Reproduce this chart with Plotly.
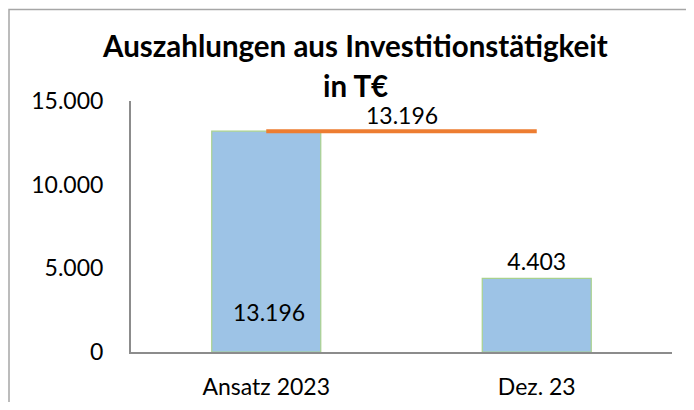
import plotly.graph_objects as go

categories = ["Ansatz 2023", "Dez. 23"]
values = [13196, 4403]
plan_line = [13196, 13196]
y_ticks = [0, 5000, 10000, 15000]

FONT = "Lato"
FS = 23

# figure is drawn inside an 8px page margin
OFF = 8
FIG_W, FIG_H = 694 - 2 * OFF, 410 - 2 * OFF
L, R_EDGE = 131 - OFF, 672 - OFF
TOP, BOT = 100.5 - OFF, 351.7 - OFF
W = R_EDGE - L


def py(p):
    """page pixel y -> paper y"""
    return (BOT - (p - OFF)) / (BOT - TOP)


def px(p):
    return ((p - OFF) - L) / W


def de(v):
    return f"{v:,}".replace(",", ".")


fig = go.Figure()

fig.add_trace(go.Bar(
    x=categories, y=values,
    width=0.403,
    marker=dict(color="#9dc3e6", line=dict(color="#a9d18e", width=1.2)),
    text=["", de(values[1])],
    textposition="outside",
    textfont=dict(family=FONT, size=FS, color="#000000"),
    cliponaxis=False,
    showlegend=False,
))

fig.add_trace(go.Scatter(
    x=categories, y=plan_line,
    mode="lines",
    line=dict(color="#ed7d31", width=4),
    showlegend=False,
))

# line label in the middle, above the orange line
fig.add_annotation(
    x=0.5, y=plan_line[0], xref="x", yref="y",
    text=de(plan_line[0]),
    showarrow=False, yanchor="bottom", yshift=0,
    font=dict(family=FONT, size=FS, color="#000000"),
)
# label inside first bar, near bottom
fig.add_annotation(
    x=0, y=2370, xref="x", yref="y",
    text=de(values[0]),
    showarrow=False, yanchor="middle", xshift=3,
    font=dict(family=FONT, size=FS, color="#000000"),
)

# title lines
fig.add_annotation(
    x=px(354.5), y=py(57), xref="paper", yref="paper",
    text="<b>Auszahlungen aus Investitionstätigkeit</b>",
    showarrow=False, yanchor="bottom", yshift=-7,
    font=dict(family=FONT, size=29.5, color="#000000"),
)
fig.add_annotation(
    x=px(355.5), y=py(97), xref="paper", yref="paper",
    text="<b>in T€</b>",
    showarrow=False, yanchor="bottom", yshift=-7,
    font=dict(family=FONT, size=29.5, color="#000000"),
)

# chart border (top and left visible)
fig.add_shape(type="rect", xref="paper", yref="paper",
              x0=px(9), x1=px(740),
              y0=py(460), y1=py(9),
              line=dict(color="#a6a6a6", width=1.5), fillcolor="rgba(0,0,0,0)",
              layer="below")

fig.update_layout(
    width=FIG_W, height=FIG_H,
    margin=dict(l=L, r=FIG_W - R_EDGE, t=TOP, b=FIG_H - BOT, autoexpand=False),
    paper_bgcolor="white", plot_bgcolor="white",
    separators=",.",
    font=dict(family=FONT, size=FS, color="#000000"),
)
fig.update_yaxes(
    range=[0, 15000], tickvals=y_ticks, tickformat=",.0f",
    showgrid=False, zeroline=False,
    showline=True, linecolor="#8c8c8c", linewidth=2,
    ticks="", ticklabelstandoff=21,
    tickfont=dict(family=FONT, size=FS, color="#000000"),
)
fig.update_xaxes(
    range=[-0.5, 1.5],
    showgrid=False, zeroline=False,
    showline=True, linecolor="#8c8c8c", linewidth=2,
    ticks="", ticklabelstandoff=13,
    tickfont=dict(family=FONT, size=FS, color="#000000"),
)

fig.write_html("out.html")
